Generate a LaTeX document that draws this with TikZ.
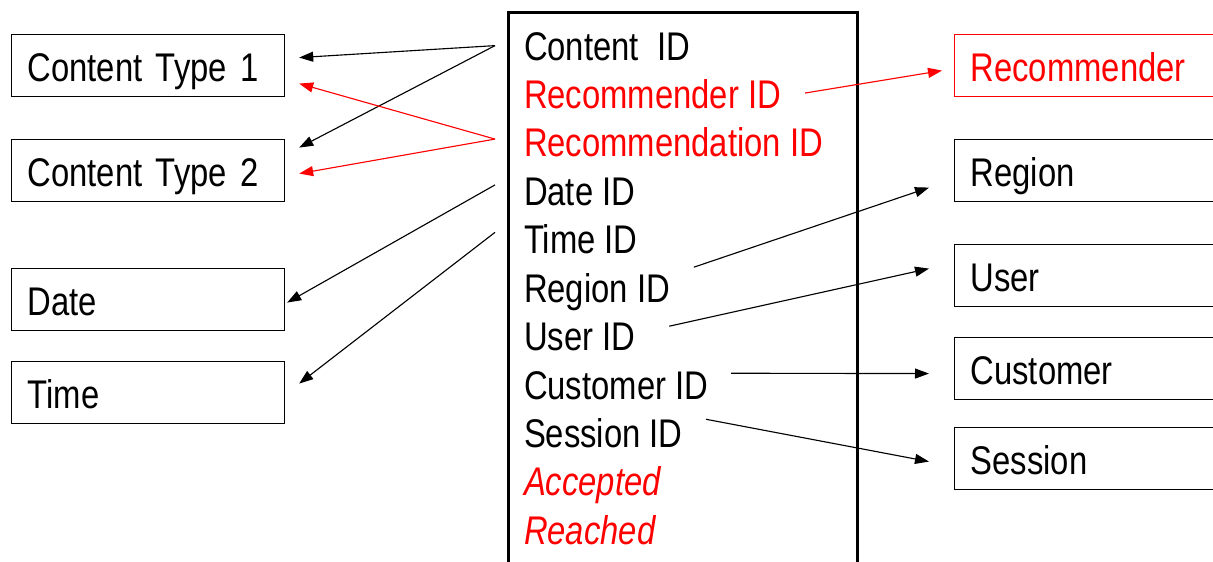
\documentclass[tikz,border=0pt]{standalone}
\usepackage{fontspec}
\setmainfont{Liberation Sans}[FakeStretch=0.82]
\usetikzlibrary{arrows.meta, positioning, calc}

\begin{document}
\begin{tikzpicture}[
  x=0.025cm, y=-0.025cm,
  font=\fontsize{28.45}{34}\selectfont,
  box/.style={draw, line width=0.8pt, minimum width=6.825cm, minimum height=1.55cm, text width=6.025cm, inner xsep=0.4cm, align=left, text height=26pt, text depth=2.8pt, anchor=north west},
  dim/.style={box, minimum width=7.5cm, text width=6.7cm},
  field/.style={inner sep=0pt, outer sep=0pt, text height=20.5pt, text depth=0pt},
  link/.style={-{Triangle[length=0.35cm, width=0.25cm]}, line width=0.8pt},
  node distance=0.49cm
]
\clip (0,0) rectangle (1213,561);

% fact table, open at the bottom
\node[draw, line width=1.9pt, minimum width=8.725cm, minimum height=15cm, anchor=north west] (fact) at (507,11) {};
\node[field, anchor=north west] (cid) at (524,31.2) {Content\ \ ID};
\node[field, text=red, below=of cid.south west, anchor=north west] (recid) {Recommender ID};
\node[field, text=red, below=of recid.south west, anchor=north west] (recoid) {Recommendation ID};
\node[field, below=of recoid.south west, anchor=north west] (dateid) {Date ID};
\node[field, below=of dateid.south west, anchor=north west] (timeid) {Time ID};
\node[field, below=of timeid.south west, anchor=north west] (regid) {Region ID};
\node[field, below=of regid.south west, anchor=north west] (userid) {User ID};
\node[field, below=of userid.south west, anchor=north west] (custid) {Customer ID};
\node[field, below=of custid.south west, anchor=north west] (sessid) {Session ID};
\node[field, text=red, below=of sessid.south west, anchor=north west] (acc) {\itshape Accepted};
\node[field, text=red, below=of acc.south west, anchor=north west] (reach) {\itshape Reached};

% dimensions on the left
\node[box] (ct1) at (11,34) {Content Type 1};
\node[box] (ct2) at (11,139) {Content Type 2};
\node[box] (date) at (11,268) {Date};
\node[box] (time) at (11,361) {Time};

% dimensions on the right
\node[dim, draw=red, text=red] (rec) at (954,34) {Recommender};
\node[dim] (region) at (954,139) {Region};
\node[dim] (user) at (954,244) {User};
\node[dim] (cust) at (954,337) {Customer};
\node[dim] (sess) at (954,427) {Session};

% keys to the left
\draw[link] ($(cid.west)+(-29,0)$) -- ($(ct1.east)+(14,-8)$);
\draw[link] ($(cid.west)+(-29,0)$) -- ($(ct2.east)+(14,-23)$);
\draw[link, red] ($(recoid.west)+(-29,-3.4)$) -- ($(ct1.east)+(14,18)$);
\draw[link, red] ($(recoid.west)+(-29,-3.4)$) -- ($(ct2.east)+(14,3)$);
\draw[link] ($(dateid.west)+(-29,-6)$) -- ($(date.east)+(2,3)$);
\draw[link] ($(timeid.west)+(-29,-7)$) -- ($(time.east)+(14,-9)$);

% keys to the right
\draw[link, red] ($(recid.east)+(24,-1)$) -- ($(rec.west)+(-12,5)$);
\draw[link] ($(regid.east)+(24,-20.6)$) -- ($(region.west)+(-25,17)$);
\draw[link] ($(userid.east)+(34,-10)$) -- ($(user.west)+(-25,-7)$);
\draw[link] ($(custid.east)+(23,-11.4)$) -- ($(cust.west)+(-25,5)$);
\draw[link] ($(sessid.east)+(23.4,-13.8)$) -- ($(sess.west)+(-25,3)$);
\end{tikzpicture}
\end{document}
